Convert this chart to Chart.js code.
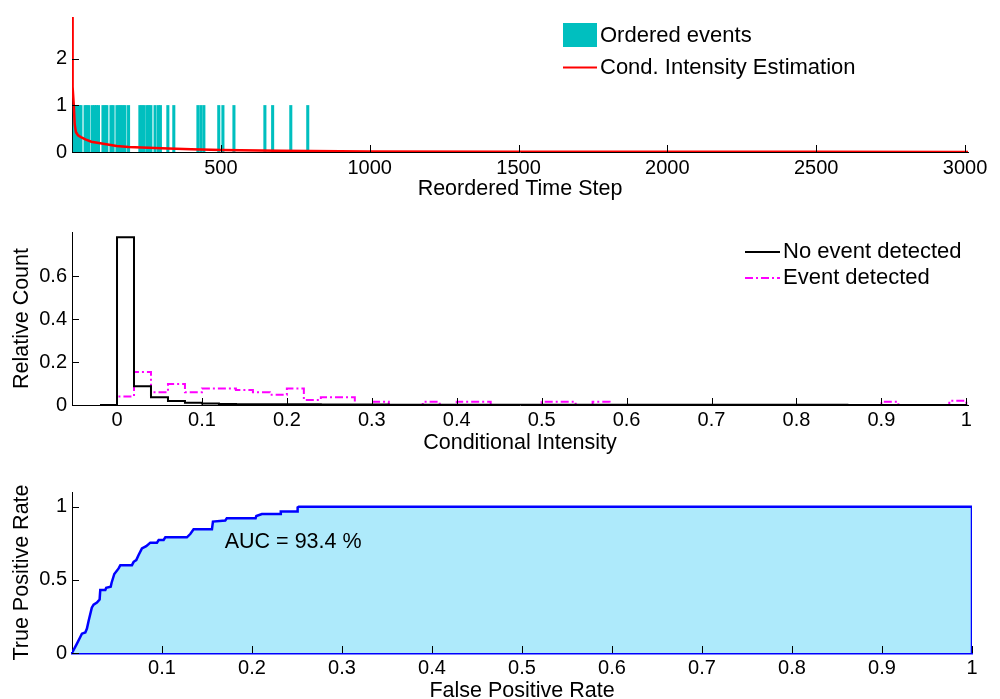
<!DOCTYPE html>
<html><head><meta charset="utf-8">
<script src="https://cdn.jsdelivr.net/npm/chart.js@4/dist/chart.umd.min.js"></script>
<style>
html,body{margin:0;padding:0;background:#fff;overflow:hidden;width:1000px;height:699px;}
canvas{position:absolute;left:0;}
#c1{top:0}#c2{top:200px}#c3{top:460px}
</style></head><body>
<canvas id="c1" width="1000" height="202"></canvas>
<canvas id="c2" width="1000" height="260"></canvas>
<canvas id="c3" width="1000" height="244"></canvas>
<script>
// ---------- DATA ----------
// Panel 1: ordered events (reordered time steps at which events occurred)
const eventTimes = [8,15,25,30,44,50,57,69,76,82,89,104,111,117,131,138,151,158,164,171,178,190,228,235,242,252,258,265,279,290,297,322,342,423,433,443,493,507,544,648,674,735,792];
const eventValue = 1;
// Conditional intensity estimate
const intensityT = [0,1,3,6,9,13,20,30,45,65,95,130,150,190,300,400,500,700,1000,1500,2000,2500,3010];
const intensityV = [2.9,2.0,1.4,1.0,0.6,0.43,0.36,0.32,0.27,0.22,0.19,0.15,0.13,0.11,0.08,0.06,0.045,0.025,0.012,0.006,0.004,0.003,0.002];
const topXTicks = [500,1000,1500,2000,2500,3000];
const topYTicks = [0,1,2];

// Panel 2: histograms of conditional intensity
const binEdges = [-0.02,0,0.02,0.04,0.06,0.08,0.1,0.12,0.14,0.16,0.18,0.2,0.22,0.24,0.26,0.28,0.3,0.32,0.34,0.36,0.38,0.4,0.42,0.44,0.46,0.48,0.5,0.52,0.54,0.56,0.58,0.6,0.62,0.64,0.66,0.68,0.7,0.72,0.74,0.76,0.78,0.8,0.82,0.84,0.86,0.88,0.9,0.92,0.94,0.96,0.98,1.0];
const noEventCounts = [0,0.78,0.087,0.036,0.019,0.01,0.007,0.005,0.004,0.004,0.003,0.003,0.003,0.002,0.002,0.002,0.002,0.0015,0.0015,0.0015,0.001,0.001,0.001,0.001,0.001,0.001,0.001,0.001,0.001,0.001,0.001,0.001,0.001,0.001,0.001,0.001,0.001,0.001,0.001,0.001,0.001,0.001,0.001,0.001,0.0005,0.0005,0.0005,0.0005,0.0005,0.0005,0.0005];
const eventCounts = [0,0.04,0.154,0.059,0.098,0.059,0.077,0.077,0.07,0.059,0.048,0.077,0.023,0.036,0.036,0,0.015,0,0,0.015,0,0.015,0.015,0,0,0,0.015,0.015,0,0.015,0,0,0,0,0,0,0,0,0,0,0,0,0,0,0,0,0.015,0,0,0,0.02];
const midXTicks = [0,0.1,0.2,0.3,0.4,0.5,0.6,0.7,0.8,0.9,1];
const midYTicks = [0,0.2,0.4,0.6];

// Panel 3: ROC curve
const fpr = [0,0.0055,0.0092,0.011,0.0148,0.0166,0.0185,0.022,0.024,0.0277,0.0307,0.0314,0.037,0.038,0.043,0.044,0.047,0.0518,0.0537,0.0666,0.0685,0.0714,0.074,0.0777,0.0825,0.087,0.0944,0.0963,0.1018,0.1037,0.1277,0.1314,0.1351,0.1555,0.1566,0.1703,0.172,0.204,0.2048,0.211,0.2314,0.232,0.25,0.2507,0.252,1,1];
const tpr = [0,0.064,0.109,0.132,0.14,0.167,0.22,0.31,0.33,0.344,0.366,0.43,0.43,0.445,0.453,0.48,0.54,0.578,0.6,0.6,0.623,0.635,0.669,0.715,0.73,0.754,0.754,0.772,0.772,0.79,0.79,0.813,0.845,0.845,0.898,0.905,0.92,0.92,0.936,0.95,0.95,0.966,0.966,0.995,1,1,0];
const botXTicks = [0.1,0.2,0.3,0.4,0.5,0.6,0.7,0.8,0.9,1];
const botYTicks = [0,0.5,1];
const aucText = 'AUC = 93.4 %';

// ---------- STYLE ----------
const FONT = "'Liberation Sans', Arial, Helvetica, sans-serif";
Chart.defaults.font.family = FONT;
Chart.defaults.font.size = 20;
Chart.defaults.color = '#000';
const TICK_FONT = {size: 20};
const TITLE_FONT = {size: 21.5};
const LEG_FONT = '22px ' + FONT;
const TEAL = 'rgb(0,191,191)';

const inwardTicks = {
  id: 'inwardTicks',
  afterDatasetsDraw(chart) {
    const {ctx, chartArea: a, scales: {x, y}} = chart;
    ctx.save();
    ctx.strokeStyle = '#000';
    ctx.lineWidth = 1;
    ctx.beginPath();
    x.ticks.forEach(t => { const p = Math.round(x.getPixelForValue(t.value)) + 0.5; ctx.moveTo(p, a.bottom); ctx.lineTo(p, a.bottom - 7); });
    y.ticks.forEach(t => { const p = Math.round(y.getPixelForValue(t.value)) + 0.5; ctx.moveTo(a.left, p); ctx.lineTo(a.left + 7, p); });
    ctx.stroke();
    ctx.restore();
  }
};

function fixedTicks(values) {
  return s => { s.ticks = values.map(v => ({value: v})); };
}
function axisX(min, max, ticks, title, height, tpad, titlePadBottom, borderColor, borderWidth) {
  return {
    type: 'linear', min, max, offset: false,
    grid: {display: false, drawTicks: false, offset: false},
    border: {display: true, color: borderColor || '#000', width: borderWidth || 1},
    ticks: {font: TICK_FONT, padding: tpad, autoSkip: false, maxRotation: 0, callback: v => String(v)},
    afterBuildTicks: fixedTicks(ticks),
    afterFit: s => { s.height = height; },
    title: title ? {display: true, text: title, font: TITLE_FONT, padding: {top: 0, bottom: titlePadBottom}} : {display: false}
  };
}
function axisY(min, max, ticks, title) {
  return {
    min, max,
    grid: {display: false, drawTicks: false},
    border: {display: true, color: '#000', width: 1},
    ticks: {font: TICK_FONT, padding: 5, autoSkip: false, callback: v => String(v)},
    afterBuildTicks: fixedTicks(ticks),
    afterFit: s => { s.width = 72; },
    title: title ? {display: true, text: title, font: TITLE_FONT, padding: {top: 9, bottom: 0}} : {display: false}
  };
}

// ---------- PANEL 1 ----------
const legend1 = {
  id: 'legend1',
  afterDraw(chart) {
    const ctx = chart.ctx;
    ctx.save();
    ctx.fillStyle = TEAL;
    ctx.fillRect(563, 23, 34, 24);
    ctx.strokeStyle = '#ff0000'; ctx.lineWidth = 2;
    ctx.beginPath(); ctx.moveTo(563, 67.5); ctx.lineTo(597, 67.5); ctx.stroke();
    ctx.fillStyle = '#000';
    ctx.font = LEG_FONT;
    ctx.textBaseline = 'middle'; ctx.textAlign = 'left';
    ctx.fillText('Ordered events', 600, 36);
    ctx.fillText('Cond. Intensity Estimation', 600, 68);
    ctx.restore();
  }
};
new Chart(document.getElementById('c1'), {
  type: 'bar',
  data: {datasets: [
    {type: 'line', label: 'Cond. Intensity Estimation', data: intensityT.map((t, i) => ({x: t, y: intensityV[i]})),
     borderColor: '#ff0000', borderWidth: 2.5, pointRadius: 0, tension: 0, order: 0},
    {type: 'bar', label: 'Ordered events', data: eventTimes.map(t => ({x: t, y: eventValue})),
     backgroundColor: TEAL, borderWidth: 0, barThickness: 2.4, order: 1}
  ]},
  options: {
    responsive: false, animation: false, events: [],
    layout: {padding: {top: 14, right: 32, left: 0, bottom: 0}},
    plugins: {legend: {display: false}, tooltip: {enabled: false}},
    scales: {
      x: axisX(0, 3010, topXTicks, 'Reordered Time Step', 50, 4, 0),
      y: axisY(0, 2.9, topYTicks, null)
    }
  },
  plugins: [inwardTicks, legend1]
});

// ---------- PANEL 2 ----------
function stepData(counts) {
  const pts = counts.map((c, i) => ({x: binEdges[i], y: c}));
  pts.push({x: binEdges[binEdges.length - 1], y: 0});
  return pts;
}
const legend2 = {
  id: 'legend2',
  afterDraw(chart) {
    const ctx = chart.ctx;
    ctx.save();
    ctx.lineWidth = 2;
    ctx.strokeStyle = '#000';
    ctx.beginPath(); ctx.moveTo(745, 52); ctx.lineTo(780, 52); ctx.stroke();
    ctx.strokeStyle = '#ff00ff';
    ctx.setLineDash([8, 3, 2, 3]);
    ctx.beginPath(); ctx.moveTo(745, 78); ctx.lineTo(780, 78); ctx.stroke();
    ctx.setLineDash([]);
    ctx.fillStyle = '#000';
    ctx.font = LEG_FONT;
    ctx.textBaseline = 'middle'; ctx.textAlign = 'left';
    ctx.fillText('No event detected', 783, 52);
    ctx.fillText('Event detected', 783, 78);
    ctx.restore();
  }
};
new Chart(document.getElementById('c2'), {
  type: 'line',
  data: {datasets: [
    {label: 'Event detected', data: stepData(eventCounts), stepped: 'before', borderColor: '#ff00ff', borderWidth: 2,
     borderDash: [8, 3, 2, 3], pointRadius: 0, fill: false, order: 1},
    {label: 'No event detected', data: stepData(noEventCounts), stepped: 'before', borderColor: '#000', borderWidth: 2,
     pointRadius: 0, fill: false, order: 0}
  ]},
  options: {
    responsive: false, animation: false, events: [],
    layout: {padding: {top: 32, right: 32, left: 0, bottom: 0}},
    plugins: {legend: {display: false}, tooltip: {enabled: false}},
    scales: {
      x: axisX(-0.053, 1.002, midXTicks, 'Conditional Intensity', 55, 3, 4),
      y: axisY(0, 0.805, midYTicks, 'Relative Count')
    }
  },
  plugins: [inwardTicks, legend2]
});

// ---------- PANEL 3 ----------
const aucLabel = {
  id: 'aucLabel',
  afterDatasetsDraw(chart) {
    const {ctx, scales: {x, y}} = chart;
    ctx.save();
    ctx.fillStyle = '#000';
    ctx.font = '21.5px ' + FONT;
    ctx.textBaseline = 'middle'; ctx.textAlign = 'left';
    ctx.fillText(aucText, x.getPixelForValue(0.1697), y.getPixelForValue(0.755));
    ctx.restore();
  }
};
new Chart(document.getElementById('c3'), {
  type: 'line',
  data: {datasets: [
    {label: 'ROC', data: fpr.map((f, i) => ({x: f, y: tpr[i]})), borderColor: '#0000ff', borderWidth: 2.5,
     backgroundColor: 'rgb(174,234,251)', fill: 'origin', pointRadius: 0, tension: 0}
  ]},
  options: {
    responsive: false, animation: false, events: [],
    layout: {padding: {top: 32, right: 28, left: 0, bottom: 0}},
    plugins: {legend: {display: false}, tooltip: {enabled: false}},
    scales: {
      x: axisX(0, 1, botXTicks, 'False Positive Rate', 51, 3, 0, '#0000ff', 2.5),
      y: axisY(0, 1.1, botYTicks, 'True Positive Rate')
    }
  },
  plugins: [inwardTicks, aucLabel]
});
</script>
</body></html>
